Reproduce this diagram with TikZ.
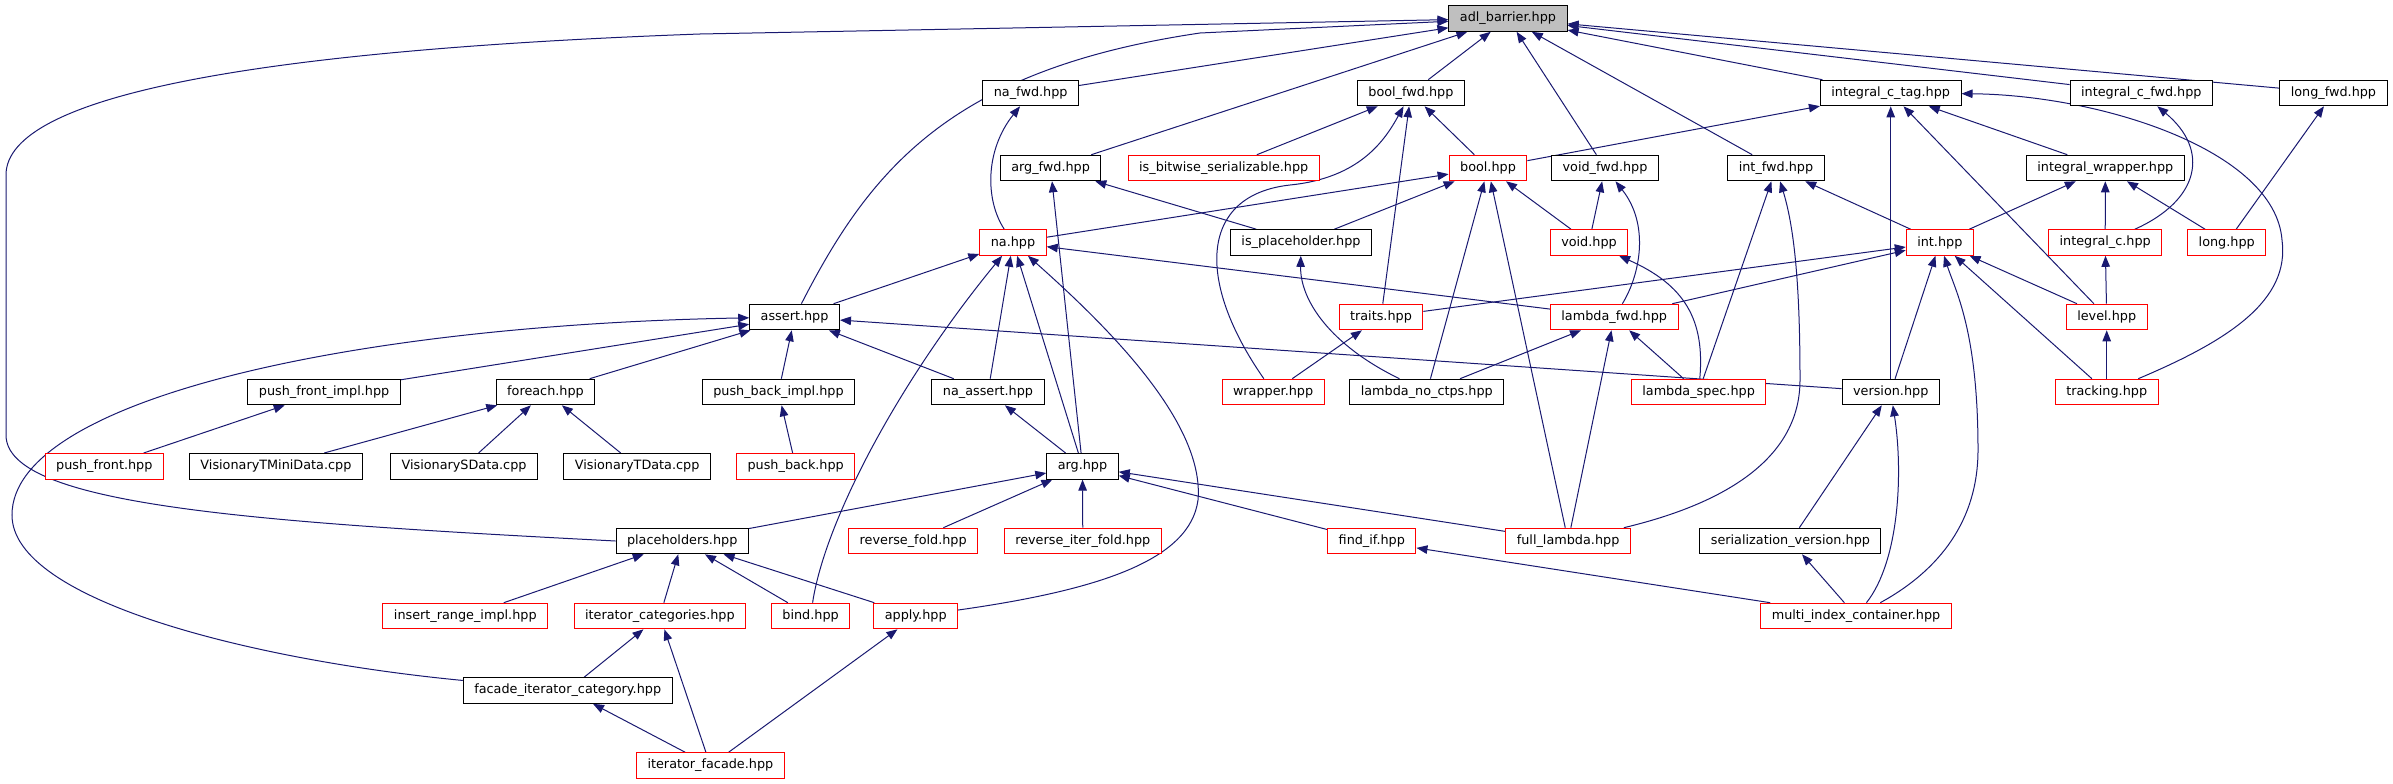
\documentclass[tikz,border=0pt]{standalone}
\usepackage{fontspec}
\setmainfont{DejaVu Sans}
\usetikzlibrary{arrows.meta,backgrounds}

\begin{document}
\begin{tikzpicture}[x=1pt,y=-1pt,
  hdrnode/.style={draw=black,fill=white,line width=1pt,inner xsep=11pt,inner ysep=0pt,
    minimum height=25.6pt,font=\fontsize{12.8}{15}\selectfont},
  hdrred/.style={hdrnode,draw=red},
  incarrow/.style={draw=navyline,line width=1pt,-{Triangle[length=11pt,width=8.5pt]}}]
\definecolor{navyline}{HTML}{191970}
\definecolor{rootgray}{HTML}{BFBFBF}
\useasboundingbox (0,0) rectangle (2393,784);
% the root header
\node[hdrnode,fill=rootgray] (adl) at (1508,18.5) {adl\_barrier.hpp};
% headers drawn in black
\foreach \nm/\x/\y/\txt in {
  nafwd/1030.7/93/na\_fwd.hpp, boolfwd/1410.9/93/bool\_fwd.hpp,
  ictag/1890.7/93/integral\_c\_tag.hpp, icfwd/2141.3/93/integral\_c\_fwd.hpp,
  longfwd/2333.4/93/long\_fwd.hpp,
  argfwd/1050.6/168/arg\_fwd.hpp, voidfwd/1605/168/void\_fwd.hpp,
  intfwd/1776/168/int\_fwd.hpp, intwrapper/2105.3/168/integral\_wrapper.hpp,
  isplaceholder/1301/242.5/is\_placeholder.hpp,
  assert/794.6/317/assert.hpp,
  pushfrontimpl/324.1/392/push\_front\_impl.hpp, foreach/545.5/392/foreach.hpp,
  pushbackimpl/778.5/392/push\_back\_impl.hpp, naassert/988/392/na\_assert.hpp,
  lambdanoctps/1426.8/392/lambda\_no\_ctps.hpp, version/1890.7/392/version.hpp,
  vtmini/275.9/466.3/VisionaryTMiniData.cpp, vsdata/464/466.3/VisionarySData.cpp,
  vtdata/637.1/466.3/VisionaryTData.cpp, arg/1082.5/466.3/arg.hpp,
  placeholders/682.2/541/placeholders.hpp, serialver/1790.4/541/serialization\_version.hpp,
  facade/567.7/690.5/facade\_iterator\_category.hpp}
  {\node[hdrnode] (\nm) at (\x,\y) {\txt};}
% headers with a red frame
\foreach \nm/\x/\y/\txt in {
  isbitwise/1223.7/168/is\_bitwise\_serializable.hpp, boolh/1488/168/bool.hpp,
  na/1013/242.5/na.hpp, voidh/1589/242.5/void.hpp, inth/1939.8/242.5/int.hpp,
  integralc/2105.2/242.5/integral\_c.hpp, longh/2226.7/242.5/long.hpp,
  traits/1381/317/traits.hpp, lambdafwd/1614.2/317/lambda\_fwd.hpp,
  level/2106.7/317/level.hpp,
  wrapper/1273.1/392/wrapper.hpp, lambdaspec/1698.6/392/lambda\_spec.hpp,
  tracking/2106.7/392/tracking.hpp,
  pushfront/104.3/466.3/push\_front.hpp, pushback/795.7/466.3/push\_back.hpp,
  reversefold/913.2/541/reverse\_fold.hpp, reverseiterfold/1082.8/541/reverse\_iter\_fold.hpp,
  findif/1371.8/541/find\_if.hpp, fulllambda/1568.1/541/full\_lambda.hpp,
  insertrange/465.3/616/insert\_range\_impl.hpp, itercat/659.9/616/iterator\_categories.hpp,
  bind/810.6/616/bind.hpp, apply/915.7/616/apply.hpp,
  mic/1856/616/multi\_index\_container.hpp,
  iterfacade/710.4/765.5/iterator\_facade.hpp}
  {\node[hdrred] (\nm) at (\x,\y) {\txt};}
\begin{scope}[on background layer]
% straight include edges
\foreach \a/\b in {nafwd/adl, boolfwd/adl, argfwd/adl, voidfwd/adl, intfwd/adl,
  ictag/adl, icfwd/adl, longfwd/adl,
  isbitwise/boolfwd, boolh/boolfwd, traits/boolfwd, boolh/ictag,
  na/boolh, isplaceholder/boolh, lambdanoctps/boolh, fulllambda/boolh, voidh/boolh,
  voidh/voidfwd, lambdaspec/intfwd, inth/intfwd,
  traits/inth, lambdafwd/inth, version/inth, tracking/inth, level/inth,
  inth/intwrapper, version/ictag, level/ictag, intwrapper/ictag,
  longh/longfwd, integralc/intwrapper, longh/intwrapper, level/integralc, tracking/level,
  arg/argfwd, isplaceholder/argfwd,
  assert/na, naassert/na, arg/na, lambdafwd/na,
  pushfrontimpl/assert, foreach/assert, pushbackimpl/assert, naassert/assert, version/assert,
  pushfront/pushfrontimpl, vtmini/foreach, vsdata/foreach, vtdata/foreach,
  pushback/pushbackimpl, arg/naassert,
  placeholders/arg, reversefold/arg, reverseiterfold/arg, findif/arg, fulllambda/arg,
  insertrange/placeholders, itercat/placeholders, bind/placeholders, apply/placeholders,
  facade/itercat, iterfacade/itercat, iterfacade/facade, iterfacade/apply,
  mic/findif, mic/serialver, serialver/version,
  lambdanoctps/lambdafwd, fulllambda/lambdafwd, lambdaspec/lambdafwd, wrapper/traits}
  {\draw[incarrow] (\a) -- (\b);}
% bent include edges
\draw[incarrow] (placeholders.west) .. controls (250,522) and (6,505) .. (6,435) -- (6,175)
  .. controls (6,95) and (260,50) .. (700,34) -- (adl);
\draw[incarrow] (assert) .. controls (870,170) and (950,70) .. (1200,33) -- (adl);
\draw[incarrow] (wrapper) .. controls (1195,280) and (1200,195) .. (1290,185)
  .. controls (1360,178) and (1385,140) .. (boolfwd);
\draw[incarrow] (lambdanoctps) .. controls (1330,345) and (1300,300) .. (isplaceholder);
\draw[incarrow] (lambdaspec) .. controls (1705,320) and (1685,285) .. (voidh);
\draw[incarrow] (lambdafwd) .. controls (1640,275) and (1650,225) .. (voidfwd);
\draw[incarrow] (fulllambda) .. controls (1740,500) and (1800,450) .. (1800,380)
  .. controls (1800,290) and (1795,230) .. (intfwd);
\draw[incarrow] (mic) .. controls (1940,570) and (1978,520) .. (1978,450)
  .. controls (1978,330) and (1955,290) .. (inth);
\draw[incarrow] (mic) .. controls (1900,560) and (1903,470) .. (version);
\draw[incarrow] (tracking) .. controls (2230,340) and (2290,300) .. (2282,240)
  .. controls (2275,150) and (2100,95) .. (ictag);
\draw[incarrow] (integralc) .. controls (2200,200) and (2210,150) .. (icfwd);
\draw[incarrow] (apply) .. controls (1100,590) and (1190,560) .. (1198,500)
  .. controls (1205,420) and (1100,320) .. (na);
\draw[incarrow] (bind) .. controls (825,520) and (900,380) .. (na);
\draw[incarrow] (na) .. controls (985,200) and (985,150) .. (nafwd);
\draw[incarrow] (facade) .. controls (250,660) and (12,600) .. (12,515)
  .. controls (12,400) and (350,325) .. (assert);
\end{scope}
\end{tikzpicture}
\end{document}
